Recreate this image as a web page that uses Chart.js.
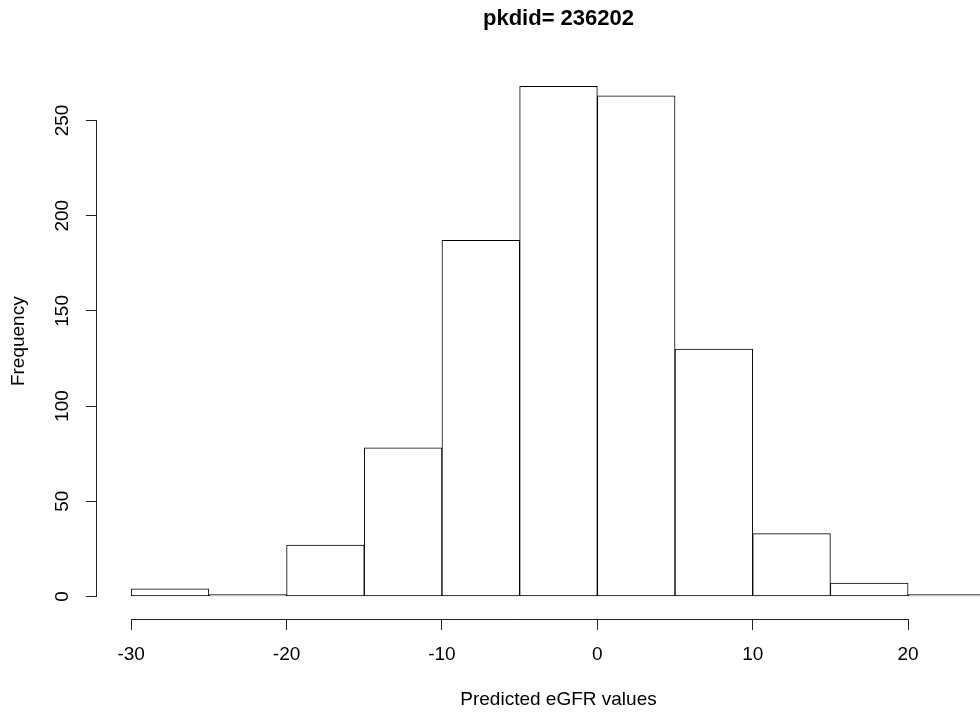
<!DOCTYPE html>
<html>
<head>
<meta charset="utf-8">
<script src="https://cdn.jsdelivr.net/npm/chart.js@4"></script>
<style>
  html, body { margin: 0; padding: 0; overflow: hidden; background: #fff; }
  canvas { display: block; }
</style>
</head>
<body>
<canvas id="hist" width="1020" height="715" style="width:1020px;height:715px"></canvas>
<script>
// histogram bins (left edge, width 5) and counts
var binStarts = [-30, -25, -20, -15, -10, -5, 0, 5, 10, 15, 20];
var counts = [4, 1, 27, 78, 187, 268, 263, 130, 33, 7, 1];
var binWidth = 5;
var xTicks = [-30, -20, -10, 0, 10, 20];
var yTicks = [0, 50, 100, 150, 200, 250];

var FONT = "'Liberation Sans', Arial, sans-serif";

var points = [];
for (var i = 0; i < binStarts.length; i++) {
  points.push({x: binStarts[i] + binWidth / 2, y: counts[i]});
}

// R-style axis lines that only run from the first to the last tick
var axisLines = {
  id: "axisLines",
  afterDraw: function(chart) {
    var ctx = chart.ctx, a = chart.chartArea;
    var xs = chart.scales.x, ys = chart.scales.y;
    ctx.save();
    ctx.strokeStyle = "#222";
    ctx.lineWidth = 1;
    ctx.beginPath();
    var yb = Math.round(a.bottom) + 0.5;
    ctx.moveTo(xs.getPixelForValue(xTicks[0]), yb);
    ctx.lineTo(xs.getPixelForValue(xTicks[xTicks.length - 1]) + 0.5, yb);
    var xl = Math.round(a.left) - 0.5;
    ctx.moveTo(xl, ys.getPixelForValue(yTicks[0]) + 0.5);
    ctx.lineTo(xl, ys.getPixelForValue(yTicks[yTicks.length - 1]));
    ctx.stroke();
    ctx.restore();
  }
};

new Chart("hist", {
  type: "bar",
  data: {
    datasets: [{
      data: points,
      backgroundColor: "#ffffff",
      borderColor: "#000",
      borderWidth: 1,
      borderSkipped: false,
      barPercentage: 1,
      categoryPercentage: 1
    }]
  },
  options: {
    responsive: false,
    animation: false,
    devicePixelRatio: 1,
    layout: {padding: 0},
    plugins: {
      legend: {display: false},
      tooltip: {enabled: false},
      title: {
        display: true,
        fullSize: false,
        text: "pkdid= 236202",
        color: "#000",
        font: {family: FONT, size: 22, weight: "bold", lineHeight: 1.2},
        padding: {top: 6, bottom: 31}
      }
    },
    scales: {
      x: {
        type: "linear",
        min: -32.2,
        max: 27.2,
        offset: false,
        afterBuildTicks: function(s) { s.ticks = xTicks.map(function(v) { return {value: v}; }); },
        afterFit: function(s) { s.height = 96; },
        border: {display: false},
        grid: {offset: false, drawOnChartArea: false, tickLength: 11, color: "#222", lineWidth: 1},
        ticks: {
          color: "#000",
          padding: 13,
          maxRotation: 0,
          autoSkip: false,
          font: {family: FONT, size: 19}
        },
        title: {
          display: true,
          text: "Predicted eGFR values",
          color: "#000",
          font: {family: FONT, size: 19},
          padding: {top: 0, bottom: 4}
        }
      },
      y: {
        min: -11.85,
        max: 280,
        afterBuildTicks: function(s) { s.ticks = yTicks.map(function(v) { return {value: v}; }); },
        afterFit: function(s) { s.width = 97; },
        border: {display: false},
        grid: {drawOnChartArea: false, tickLength: 11, color: "#222", lineWidth: 1},
        ticks: {
          color: "#000",
          padding: 7,
          minRotation: 90,
          maxRotation: 90,
          crossAlign: "center",
          autoSkip: false,
          font: {family: FONT, size: 19}
        },
        title: {
          display: true,
          text: "Frequency",
          color: "#000",
          font: {family: FONT, size: 19},
          padding: {top: 7, bottom: 0}
        }
      }
    }
  },
  plugins: [axisLines]
});
</script>
</body>
</html>
